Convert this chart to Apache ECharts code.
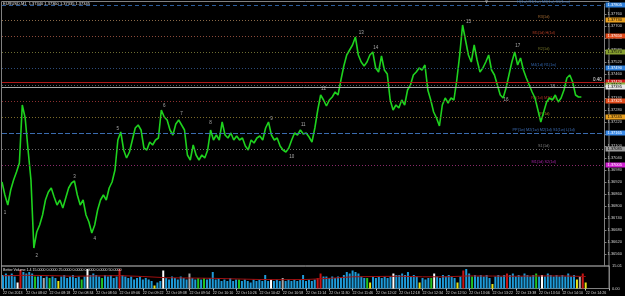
<!DOCTYPE html>
<html><head><meta charset="utf-8">
<script src="https://cdn.jsdelivr.net/npm/echarts@6/dist/echarts.min.js"></script>
<style>html,body{margin:0;padding:0;background:#000;}#c{width:625px;height:296px;}</style>
</head><body><div id="c"></div>
<script>
// ---- data ----
const timeLabels = ['22 Oct 2013','22 Oct 08:02','22 Oct 08:18','22 Oct 08:34','22 Oct 08:50','22 Oct 09:06','22 Oct 09:22','22 Oct 09:38','22 Oct 09:54','22 Oct 10:10','22 Oct 10:26','22 Oct 10:42','22 Oct 10:58','22 Oct 11:14','22 Oct 11:30','22 Oct 11:46','22 Oct 12:02','22 Oct 12:18','22 Oct 12:34','22 Oct 12:50','22 Oct 13:06','22 Oct 13:22','22 Oct 13:38','22 Oct 13:54','22 Oct 14:10','22 Oct 14:26'];

const closes = [
1.36920,1.36855,1.36805,1.36880,1.36930,1.36970,1.37015,1.37305,1.37240,1.37080,
1.36930,1.36590,1.36670,1.36705,1.36755,1.36830,1.36870,1.36890,1.36845,1.36805,
1.36830,1.36790,1.36840,1.36890,1.36915,1.36925,1.36855,1.36805,1.36830,1.36755,
1.36720,1.36665,1.36705,1.36780,1.36830,1.36855,1.36830,1.36890,1.36920,1.36980,
1.37130,1.37170,1.37080,1.37040,1.37070,1.37130,1.37190,1.37205,1.37180,1.37090,
1.37080,1.37120,1.37105,1.37130,1.37140,1.37280,1.37245,1.37230,1.37180,1.37155,
1.37210,1.37230,1.37205,1.37180,1.37055,1.37030,1.37105,1.37055,1.37030,1.37055,
1.37040,1.37080,1.37180,1.37130,1.37155,1.37130,1.37220,1.37155,1.37140,1.37165,
1.37130,1.37150,1.37130,1.37140,1.37100,1.37080,1.37130,1.37115,1.37140,1.37150,
1.37130,1.37190,1.37220,1.37155,1.37130,1.37140,1.37100,1.37080,1.37070,1.37090,
1.37130,1.37165,1.37155,1.37180,1.37160,1.37165,1.37145,1.37120,1.37190,1.37280,
1.37355,1.37330,1.37300,1.37330,1.37345,1.37370,1.37355,1.37430,1.37500,1.37555,
1.37580,1.37605,1.37645,1.37555,1.37520,1.37500,1.37520,1.37555,1.37570,1.37490,
1.37470,1.37550,1.37480,1.37460,1.37330,1.37280,1.37305,1.37290,1.37330,1.37305,
1.37380,1.37405,1.37455,1.37470,1.37490,1.37480,1.37505,1.37380,1.37330,1.37270,
1.37240,1.37200,1.37305,1.37340,1.37315,1.37340,1.37330,1.37430,1.37555,1.37705,
1.37630,1.37555,1.37520,1.37605,1.37530,1.37470,1.37490,1.37520,1.37555,1.37480,
1.37455,1.37405,1.37355,1.37340,1.37390,1.37455,1.37520,1.37570,1.37505,1.37540,
1.37480,1.37440,1.37405,1.37370,1.37340,1.37280,1.37220,1.37270,1.37320,1.37340,
1.37330,1.37355,1.37320,1.37340,1.37380,1.37440,1.37455,1.37420,1.37355,1.37345,
1.37345
];

const volumes = [
9,10,9,10,8,4,12.5,11,10,11,
10,8,8,9,7,8,7,8,7,5,
8,9,7,8,9,7,8,6,8,13,
9,10,9,8,7,9,8,9,7,8,
13,9,8,7,8,6,7,8,6,7,
6,5,2,4,5,12,7,6,8,7,
6,8,7,6,10,7,6,7,6,7,
6,7,11,6,7,5,6,5,7,5,
6,6,5,6,5,4,6,5,6,5,
9,5,6,5,6,5,7,5,6,5,
6,5,6,9,5,6,5,6,7,10,
8,8,7,8,7,8,7,9,11,10,
12,11,10,8,7,7,4,8,7,8,
7,8,7,8,10,9,9,10,9,11,
8,9,8,4,7,6,7,7,10,8,
7,9,8,9,8,7,4,8,12,13,
10,8,9,8,9,8,9,7,3,8,
9,8,9,10,9,10,8,9,8,10,
9,8,9,10,8,9,8,10,9,8,
9,8,9,8,10,8,9,6,8,10,
4
];
// Better Volume bar type: b=normal, g=churn, y=low, w=climax down, r=climax up, a=neutral
const volTypes = 'bbbbbwrbbb'+'bgbbabgbby'+'bbbbbbbgbw'+'bbbbgbbbbb'+'rbbbbbbbbb'+'bbybbwbbbb'+'bbbbabbgbg'+'bbbbbbbbbb'+'bgbbbbbbbb'+'bbwbbbabbb'+'bbbbbbbbrr'+'bbbbbbbbbb'+'bbbbbgybbb'+'bbbbwbbbbb'+'bbbybbbgwb'+'bbbbbbybrb'+'bgbbbbbbyb'+'bbbrbbbbbb'+'bbbgbwbbbb'+'bbbbbbbyar'+'y';
const volAvg = [8.5,8.8,8.6,8.2,8.4,8.6,8.0,7.2,7.0,6.8,6.4,6.0,5.9,6.0,6.8,7.8,8.0,8.2,7.8,7.8,8.4,8.3,8.2,8.4,8.4,8.0];

const levelPrices = [1.37805,1.37730,1.37650,1.37570,1.37490,1.37420,1.37405,1.37395,1.37325,1.37245,1.37165,1.37085,1.37005];
const levelNames = ['H(1w) R1(1w) M3(1w) S1(1mo)','R3(1d)','M5(1d) H(1d)','R2(1d)','M4(1d) R1(1w)','','','','R1(1d) M3(1d)','PP(1d)','PP(1w) M2(1w) M2(1d) S1(1w) L(1d)','S1(1d)','M1(1d) S2(1d)'];

const waveNames = ['1','2','3','4','5','6','7','8','9','10','11','12','13','14','15','16','17','18'];
const waveIdx = [1,12,25,32,40,56,62,72,93,100,104,111,124,129,161,174,178,190];
const wavePrices = [1.36765,1.36550,1.36945,1.36635,1.37185,1.37300,1.37260,1.37215,1.37235,1.37045,1.37205,1.37385,1.37665,1.37590,1.37720,1.37330,1.37600,1.37395];

// ---- styles ----
const FONT = 'Liberation Sans';
const levelStyles = [
  {line:'#2c5d9c', type:[4,3], text:'#3b7fd4', tag:'#2f7fd8', tagText:'#ffffff'},
  {line:'#8c6a48', type:[1,2], text:'#c8823c', tag:'#e8a020', tagText:'#000000'},
  {line:'#8c4a3a', type:[1,2], text:'#d8482a', tag:'#e04a1a', tagText:'#ffffff'},
  {line:'#6c6c32', type:[1,2], text:'#8c8c30', tag:'#88a030', tagText:'#000000'},
  {line:'#2c4c7c', type:[1,2], text:'#3a78d0', tag:'#2f7fd8', tagText:'#ffffff'},
  {line:'#b01818', type:'solid', text:'#d03030', tag:'#d01818', tagText:'#ffffff'},
  {line:'#606060', type:[1,2], text:'#909090', tag:'#88b040', tagText:'#000000'},
  {line:'#a8a8a8', type:'solid', text:'#c0c0c0', tag:'#e8e8e8', tagText:'#000000'},
  {line:'#8c3030', type:[1,2], text:'#d83a2a', tag:'#e04a1a', tagText:'#ffffff'},
  {line:'#7c6c2a', type:[1,2], text:'#c8942a', tag:'#e8a020', tagText:'#000000'},
  {line:'#3a6cb0', type:[5,2], text:'#4a86e0', tag:'#3a8ae8', tagText:'#ffffff'},
  {line:'#6a6a6a', type:[1,2], text:'#9a9a9a', tag:'#9a9a9a', tagText:'#000000'},
  {line:'#8a2a6a', type:[1,2], text:'#d02ad0', tag:'#d020d0', tagText:'#ffffff'}
];
const volColors = {b:'#1e9ad8', g:'#22c322', y:'#e6e61a', w:'#ffffff', r:'#c81414', a:'#a8a8a8'};
const NAME_IDX = 187;

const N = 209;
const cats = Array.from({length:N}, (_, i) => String(i));
const volData = volumes.map((v, i) => ({value: v, itemStyle: {color: volColors[volTypes[i]]}}));
const avgData = cats.map((c, i) => (i % 8 === 0 && volAvg[i / 8] !== undefined) ? volAvg[i / 8] : null);

const chart = echarts.init(document.getElementById('c'), null, {renderer: 'canvas'});
chart.setOption({
  animation: false,
  backgroundColor: '#000000',
  textStyle: {fontFamily: FONT},
  title: [
    {text: 'EURUSD,M1  1.37340 1.37360 1.37335 1.37345', left: 3, top: 2, padding: 0,
     textStyle: {fontSize: 4, color: '#e0e0e0', fontWeight: 'normal', fontFamily: FONT}},
    {text: 'Better Volume 1.4 15.0000 0.0000 25.0000 0.0000 0.0000 0.0000 50.0000', left: 3, top: 268, padding: 0,
     textStyle: {fontSize: 3.6, color: '#e0e0e0', fontWeight: 'normal', fontFamily: FONT}}
  ],
  grid: [
    {left: 2, right: 16, top: 4, bottom: 30},
    {left: 2, right: 16, top: 266, bottom: 7.5}
  ],
  xAxis: [
    {type: 'category', gridIndex: 0, data: cats, boundaryGap: false, show: false},
    {type: 'category', gridIndex: 1, data: cats, boundaryGap: false,
     axisLine: {show: false},
     axisTick: {show: true, interval: 7, length: 2, lineStyle: {color: '#c0c0c0'}},
     axisLabel: {interval: 7, formatter: (v, i) => timeLabels[i / 8] || '', align: 'left',
                 fontSize: 3.6, color: '#d8d8d8', margin: 2, fontFamily: FONT}}
  ],
  yAxis: [
    {type: 'value', gridIndex: 0, position: 'right', min: 1.3650, max: 1.3781, interval: 0.0006,
     axisLine: {show: true, lineStyle: {color: '#808080'}},
     axisTick: {show: true, length: 2, lineStyle: {color: '#808080'}},
     splitLine: {show: false},
     axisLabel: {showMinLabel: false, showMaxLabel: false, fontSize: 4, color: '#d0d0d0', margin: 3,
                 fontFamily: FONT, formatter: v => v.toFixed(5)}},
    {type: 'value', gridIndex: 1, position: 'right', min: 0, max: 15.01, interval: 15.01,
     axisLine: {show: true, lineStyle: {color: '#808080'}},
     axisTick: {show: false}, splitLine: {show: false},
     axisLabel: {fontSize: 4, color: '#d0d0d0', margin: 3, fontFamily: FONT, formatter: v => v.toFixed(2)}}
  ],
  series: [
    {type: 'line', name: 'EURUSD', xAxisIndex: 0, yAxisIndex: 0, data: closes, symbol: 'none',
     lineStyle: {color: '#1ed21e', width: 1.6}, silent: true,
     markLine: {
       silent: true, symbol: ['none', 'none'], animation: false, precision: 5,
       data: levelPrices.map((p, i) => ({
         yAxis: p,
         lineStyle: {color: levelStyles[i].line, type: levelStyles[i].type, width: 1},
         label: {show: true, position: 'end', distance: 1, formatter: p.toFixed(5), fontSize: 4,
                 fontFamily: FONT, color: levelStyles[i].tagText, backgroundColor: levelStyles[i].tag,
                 padding: [1, 3, 0, 2]}
       }))
     }},
    {type: 'scatter', name: 'levelNames', xAxisIndex: 0, yAxisIndex: 0, symbolSize: 0, silent: true,
     data: levelPrices.map((p, i) => ({name: levelNames[i], value: [NAME_IDX, p],
       label: {color: levelStyles[i].text}})).filter(d => d.name),
     label: {show: true, position: 'top', distance: 1, formatter: '{b}', fontSize: 3.8, fontFamily: FONT}},
    {type: 'scatter', name: 'waves', xAxisIndex: 0, yAxisIndex: 0, symbolSize: 0, silent: true,
     data: waveNames.map((n, i) => ({name: n, value: [waveIdx[i], wavePrices[i]]})),
     label: {show: true, position: 'inside', formatter: '{b}', fontSize: 4.5, color: '#d0d0d0', fontFamily: FONT}},
    {type: 'bar', name: 'volume', xAxisIndex: 1, yAxisIndex: 1, data: volData, barWidth: 2, silent: true},
    {type: 'line', name: 'volAvg', xAxisIndex: 1, yAxisIndex: 1, data: avgData, connectNulls: true,
     symbol: 'none', lineStyle: {color: '#a01010', width: 1}, silent: true}
  ],
  graphic: [
    {type: 'rect', shape: {x: 1.5, y: 1.5, width: 607.5, height: 287}, style: {fill: null, stroke: '#808080', lineWidth: 1}, silent: true},
    {type: 'line', shape: {x1: 1.5, y1: 266, x2: 609, y2: 266}, style: {stroke: '#c8c8c8', lineWidth: 1}, silent: true},
    {type: 'text', left: 593, top: 77, style: {text: '0.40', fontSize: 4.5, fill: '#e0e0e0', fontFamily: FONT}, silent: true},
    {type: 'text', left: 485, top: 0, style: {text: '▼', fontSize: 4, fill: '#a0a0a0', fontFamily: 'DejaVu Sans'}, silent: true}
  ]
});
</script></body></html>
